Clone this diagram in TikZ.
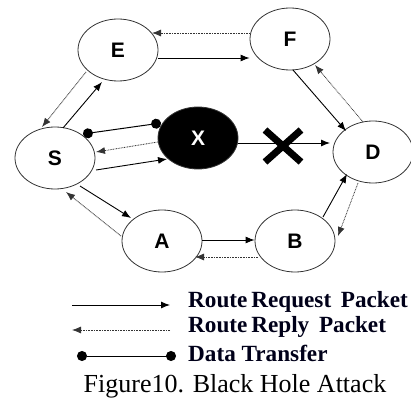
\documentclass[tikz,border=0pt]{standalone}
\usepackage{fontspec}
\setmainfont{Liberation Serif}
\newfontfamily\labelfont{Liberation Sans}
\usetikzlibrary{arrows.meta,shapes.geometric}
\begin{document}
\begin{tikzpicture}[x=1pt,y=-1pt,
  peer/.style={draw=black!80,line width=0.8pt,ellipse,minimum width=80pt,minimum height=62pt,inner sep=0pt,
    font=\labelfont\bfseries\fontsize{21}{21}\selectfont},
  rogue/.style={peer,fill=black,text=white},
  req/.style={line width=0.9pt,-{Latex[length=9pt,width=7pt]}},
  rep/.style={line width=0.8pt,black!80,dash pattern=on 0.8pt off 0.8pt,-{Latex[length=9pt,width=7pt]}},
  dat/.style={line width=1pt,{Circle[length=10pt]}-{Circle[length=10pt]}},
  legtext/.style={anchor=west,inner sep=0pt,text=black!90!blue,font=\bfseries\fontsize{23.2}{23.2}\selectfont},
]
\useasboundingbox (0,0) rectangle (411,403);

% nodes of the network
\node[peer]  (E) at (118,50)  {E};
\node[peer]  (F) at (290,39)  {F};
\node[peer]  (S) at (55,158)  {S};
\node[rogue] (X) at (198,138) {X};
\node[peer]  (D) at (373,152) {D};
\node[peer]  (A) at (162,241) {A};
\node[peer]  (B) at (295,241) {B};

% route requests (solid) and replies (dotted)
\draw[req] (E.east |- 0,58) -- (F.west |- 0,58);
\draw[rep] (F.west |- 0,33) -- (152,33);
\draw[req] (63,128) -- (102,82);
\draw[rep] (86,72) -- (42,127);
\draw[req] (293,70) -- (346,131);
\draw[rep] (363,122) -- (315,65);
\draw[rep] (158,142) -- (96,152);
\draw[req] (96,170) -- (167,159);
\draw[req] (X.east |- 0,143) -- (330,143);
\draw[req] (80,186) -- (131,218);
\draw[rep] (121,236) -- (66,192);
\draw[req] (A.east |- 0,240) -- (B.west |- 0,240);
\draw[rep] (258,257) -- (195,257);
\draw[req] (323,217) -- (347,174);
\draw[rep] (358,183) -- (338,236);

% data transfer between S and the black hole
\coordinate (dS) at (83,134);
\coordinate (dX) at (161,123);
\draw[dat] (dS) -- (dX);

% broken link from X to D
\draw[line width=7pt] (265,130) -- (301,162) (301,130) -- (265,162);

% legend
\coordinate (l1a) at (72,305);  \coordinate (l1b) at (170,305);
\coordinate (l2a) at (170,330); \coordinate (l2b) at (72,330);
\coordinate (l3a) at (77,356);  \coordinate (l3b) at (176,356);
\draw[req] (l1a) -- (l1b);
\draw[rep] (l2a) -- (l2b);
\draw[dat] (l3a) -- (l3b);
\node[legtext] (t1) at (188,302) {Route\,Request\, Packet};
\node[legtext] (t2) at (188,327) {Route\,Reply\, Packet};
\node[legtext] (t3) at (188,353) {Data Transfer};

% caption
\node[font=\fontsize{26}{26}\selectfont,inner sep=0pt] (cap) at (235,386) {Figure10. Black Hole Attack};
\end{tikzpicture}
\end{document}
